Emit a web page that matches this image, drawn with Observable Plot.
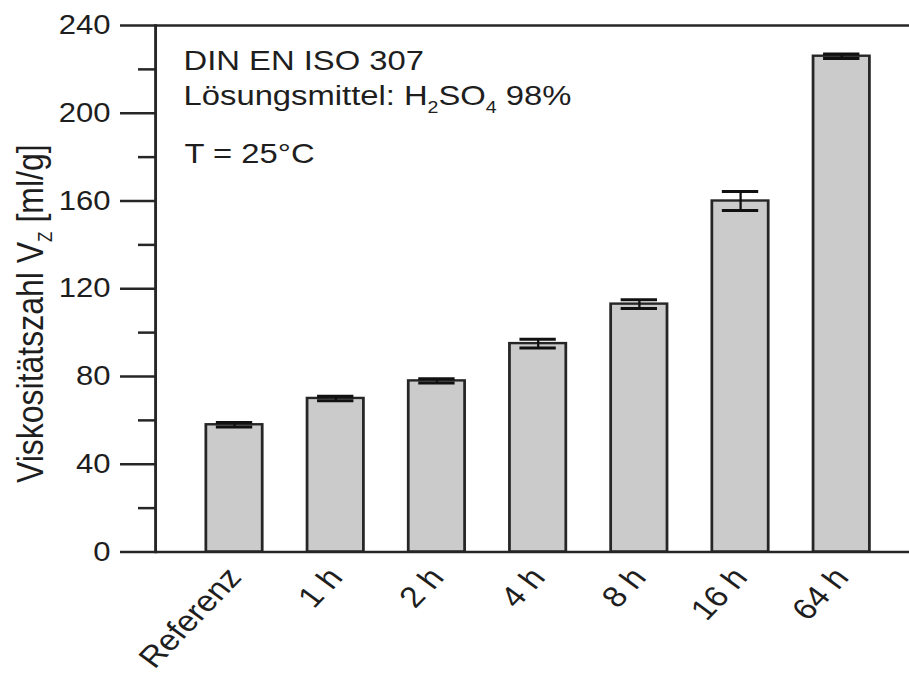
<!DOCTYPE html>
<html>
<head>
<meta charset="utf-8">
<script src="https://cdn.jsdelivr.net/npm/d3@7"></script>
<script src="https://cdn.jsdelivr.net/npm/@observablehq/plot@0.6"></script>
<style>
  html, body { margin: 0; padding: 0; background: #ffffff; }
  #chart svg { display: block; }
</style>
</head>
<body>
<div id="chart"></div>
<script>
// ---- data ----
const categories = ["Referenz", "1 h", "2 h", "4 h", "8 h", "16 h", "64 h"];
const values = [58, 70, 78, 95, 113, 160, 226];
const errors = [1, 1, 1, 2, 2, 4.3, 1];
const yMajorTicks = [0, 40, 80, 120, 160, 200, 240];
const yMinorTicks = [20, 60, 100, 140, 180, 220];
const yLabelParts = [["Viskositätszahl V", false], ["Z", true], [" [ml/g]", false]];
const annotationLine1 = "DIN EN ISO 307";
const annotationLine2Parts = [["Lösungsmittel: H", false], ["2", true], ["SO", false], ["4", true], [" 98%", false]];
const annotationLine3 = "T = 25°C";

// ---- layout (output is stretched horizontally like the reference) ----
const STRETCH = 1.15;
const OUT_W = 909, OUT_H = 675;
const W = OUT_W / STRETCH;
const hx = v => v / STRETCH;           // horizontal output px -> internal units
const marginLeft = hx(155), marginTop = 25, marginBottom = OUT_H - 551.5;
const ink = "#262626";
const textColor = "#1e1e1e";

const data = categories.map((c, i) => ({cat: c, v: values[i], e: errors[i]}));
const joinParts = parts => parts.map(p => p[0]).join("");
const yLabelText = joinParts(yLabelParts);
const annotationLine2 = joinParts(annotationLine2Parts);

const svg = Plot.plot({
  width: W,
  height: OUT_H,
  marginLeft,
  marginRight: 0,
  marginTop,
  marginBottom,
  style: {fontFamily: "'Liberation Sans', Arial, Helvetica, sans-serif", color: textColor, background: "#ffffff", overflow: "visible"},
  x: {type: "band", domain: categories, range: [marginLeft, hx(919.5)], paddingInner: 0.445, paddingOuter: 0.488, axis: null},
  y: {domain: [0, 240], axis: null},
  marks: [
    Plot.barY(data, {x: "cat", y: "v", fill: "#cbcbcb", stroke: ink, strokeWidth: 2.4}),
    Plot.ruleX(data, {x: "cat", y1: d => d.v - d.e, y2: d => d.v + d.e, stroke: "#111", strokeWidth: 2}),
    Plot.tickY(data, {x: "cat", y: d => d.v - d.e, insetLeft: hx(10), insetRight: hx(10), stroke: "#111", strokeWidth: 3}),
    Plot.tickY(data, {x: "cat", y: d => d.v + d.e, insetLeft: hx(10), insetRight: hx(10), stroke: "#111", strokeWidth: 3}),
    Plot.ruleY(d3.extent(yMajorTicks), {stroke: ink, strokeWidth: 2.5}),
    Plot.frame({anchor: "left", stroke: ink, strokeWidth: 2.5}),
    Plot.axisY({ticks: yMajorTicks, tickSize: hx(35), tickPadding: hx(10), fontSize: 27, label: null, stroke: ink, strokeWidth: 2.5, fill: textColor}),
    Plot.axisY({ticks: yMinorTicks, tickSize: hx(17), tickFormat: () => "", label: null, stroke: ink, strokeWidth: 2.5}),
    Plot.axisX({tickSize: 0, tickRotate: -50, tickPadding: 20, dx: 0, textAnchor: "end", lineAnchor: "middle", fontSize: 29.5, label: null, fill: textColor}),
    Plot.text([yLabelText], {frameAnchor: "left", rotate: -90, textAnchor: "middle", lineAnchor: "bottom", dx: hx(42) - marginLeft, dy: 25, fontSize: 32, fill: textColor}),
    Plot.text([annotationLine1], {frameAnchor: "top-left", textAnchor: "start", lineAnchor: "bottom", dx: hx(183) - marginLeft, dy: 69 - marginTop, fontSize: 28.5, fill: textColor}),
    Plot.text([annotationLine2], {frameAnchor: "top-left", textAnchor: "start", lineAnchor: "bottom", dx: hx(183) - marginLeft, dy: 104 - marginTop, fontSize: 28.5, fill: textColor}),
    Plot.text([annotationLine3], {frameAnchor: "top-left", textAnchor: "start", lineAnchor: "bottom", dx: hx(184) - marginLeft, dy: 162 - marginTop, fontSize: 28.5, fill: textColor})
  ]
});

// subscripts as real tspans
function applyParts(root, parts, subSize, subDy) {
  const full = joinParts(parts);
  root.querySelectorAll("text").forEach(t => {
    if (t.textContent !== full) return;
    while (t.firstChild) t.removeChild(t.firstChild);
    let shifted = false;
    for (const [s, sub] of parts) {
      const ts = document.createElementNS("http://www.w3.org/2000/svg", "tspan");
      ts.textContent = s;
      if (sub) { ts.setAttribute("font-size", subSize); ts.setAttribute("dy", subDy); shifted = true; }
      else if (shifted) { ts.setAttribute("dy", -subDy); shifted = false; }
      t.appendChild(ts);
    }
  });
}
applyParts(svg, annotationLine2Parts, 17, 8);
applyParts(svg, yLabelParts, 17, 8);

// horizontal stretch of the whole figure, as in the reference image
svg.setAttribute("viewBox", `0 0 ${W} ${OUT_H}`);
svg.setAttribute("preserveAspectRatio", "none");
svg.setAttribute("width", OUT_W);
svg.setAttribute("height", OUT_H);
svg.style.width = OUT_W + "px";
svg.style.height = OUT_H + "px";
svg.style.maxWidth = "none";
document.getElementById("chart").appendChild(svg);
</script>
</body>
</html>
